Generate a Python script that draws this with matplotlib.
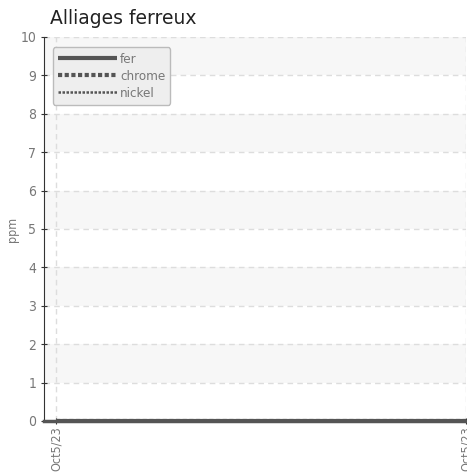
import matplotlib.pyplot as plt
from matplotlib.patches import Rectangle

# Données
dates = ['Oct5/23', 'Oct5/23']
x_pos = [0, 1]
fer = [0, 0]
chrome = [0, 0]
nickel = [0, 0]

plt.rcParams['font.family'] = ['DejaVu Sans']
plt.rcParams['font.stretch'] = 'condensed'

fig = plt.figure(figsize=(4.67, 4.74), dpi=100)
ax = fig.add_axes([0.094, 0.112, 0.904, 0.81])

ax.set_xlim(-0.03, 1.0)
ax.set_ylim(0, 10)

# bandes alternées
for y0 in range(1, 10, 2):
    ax.add_patch(Rectangle((-0.03, y0), 1.03, 1, color='#f7f7f7', zorder=0, lw=0))

ax.plot(x_pos, fer, color='#555555', lw=3, label='fer', solid_capstyle='butt', zorder=3)
ax.plot(x_pos, chrome, color='#555555', lw=3, ls=(0, (1, 0.6)), label='chrome', zorder=3)
ax.plot(x_pos, nickel, color='#555555', lw=1.8, ls=(0, (1, 0.6)), label='nickel', zorder=3)

ax.set_yticks(range(0, 11))
ax.set_xticks(x_pos)
ax.set_xticklabels(dates, rotation=90)
ax.tick_params(colors='#333333', labelcolor='#777777', labelsize=10, length=4, direction='inout')
ax.tick_params(axis='x', labelsize=9, pad=2)
ax.grid(True, color='#dddddd', ls=(0, (4, 3)), lw=1)
ax.set_axisbelow(True)

for s in ['top', 'right']:
    ax.spines[s].set_visible(False)
ax.spines['left'].set_color('#333333')
ax.spines['bottom'].set_color('#555555')
ax.spines['bottom'].set_linewidth(2.5)

ax.set_ylabel('ppm', color='#777777', fontsize=9)
ax.yaxis.set_label_coords(-0.058, 0.5)
fig.text(0.107, 0.95, 'Alliages ferreux', fontsize=13.5, family='DejaVu Sans',
         stretch='normal', color='#222222')

leg = ax.legend(loc='upper left', fontsize=9.5, handlelength=4.5, handletextpad=0.2,
                labelspacing=0.3, borderpad=0.4, fancybox=True, frameon=True,
                facecolor='#eeeeee', edgecolor='#bbbbbb', framealpha=1,
                bbox_to_anchor=(0.005, 0.99))
for t in leg.get_texts():
    t.set_color('#777777')

plt.savefig('out.png')
